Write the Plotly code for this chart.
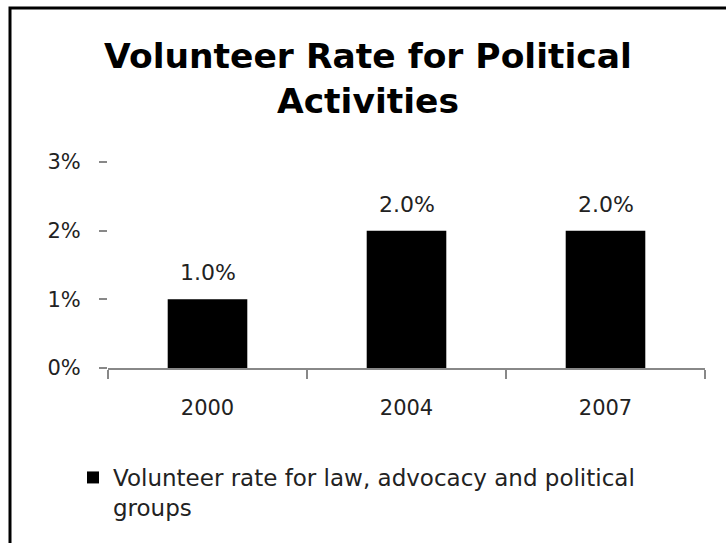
import plotly.graph_objects as go

years = ["2000", "2004", "2007"]
rates = [1.0, 2.0, 2.0]
series_name = "Volunteer rate for law, advocacy and political<br>groups"
title_text = "Volunteer Rate for Political<br>Activities"
y_ticks = [0, 1, 2, 3]
y_ticktext = ["0%", "1%", "2%", "3%"]

FONT = "DejaVu Sans"
W, H = 726, 543
L, R, T, B = 108, 21, 162, 175

fig = go.Figure()
fig.add_trace(go.Bar(
    x=years, y=rates, name=series_name,
    marker=dict(color="#000000", line=dict(width=0)),
    showlegend=True,
))

# data labels above each bar (category index taken from the data order)
for i, v in enumerate(rates):
    fig.add_annotation(
        x=i, y=v, text=f"{v:.1f}%", showarrow=False,
        xref="x", yref="y",
        yanchor="bottom", yshift=12,
        font=dict(family=FONT, size=22, color="#222222"),
    )

fig.update_layout(
    width=W, height=H,
    margin=dict(l=L, r=R, t=T, b=B, pad=0, autoexpand=False),
    paper_bgcolor="white", plot_bgcolor="white",
    bargap=0.6,
    title=dict(
        text=title_text, x=368 / W, xref="container", xanchor="center",
        y=1 - 68 / H, yref="container", yanchor="top",
        font=dict(family=FONT, size=34.5, color="#000000", weight="bold"),
    ),
    xaxis=dict(
        type="category", range=[-0.5, len(years) - 0.5],
        showline=True, linecolor="#888888", linewidth=1.5,
        ticks="outside", tickson="boundaries", ticklen=9,
        tickcolor="#888888", tickwidth=1.5,
        tickfont=dict(family=FONT, size=21, color="#222222"),
        ticklabelstandoff=20,
        showgrid=False, zeroline=False, fixedrange=True,
    ),
    yaxis=dict(
        range=[0, 3], tickvals=y_ticks, ticktext=y_ticktext,
        showline=False, ticks="outside", ticklen=8,
        tickcolor="#888888", tickwidth=1.5,
        tickfont=dict(family=FONT, size=21, color="#222222"),
        ticklabelstandoff=14,
        showgrid=False, zeroline=False, fixedrange=True,
    ),
    legend=dict(
        orientation="h", xref="container", yref="container",
        x=73 / W, y=1 - 456 / H, xanchor="left", yanchor="top",
        valign="top",
        font=dict(family=FONT, size=23, color="#222222"),
        itemwidth=30,
    ),
    shapes=[dict(
        type="rect", xref="paper", yref="paper",
        x0=(10 - L) / (W - L - R), x1=1.2,
        y0=-1.5, y1=(H - B - 8) / (H - T - B),
        line=dict(color="#000000", width=3), fillcolor="rgba(0,0,0,0)",
        layer="above",
    )],
)

fig.write_html("out.html")
